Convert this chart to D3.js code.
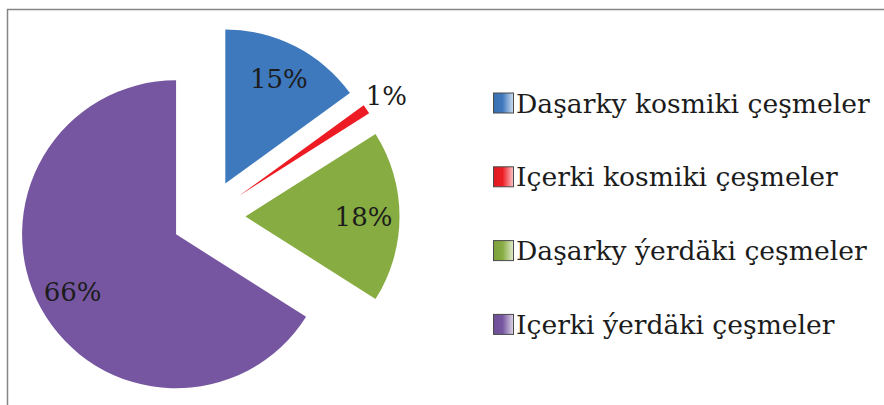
<!DOCTYPE html>
<html>
<head>
<meta charset="utf-8">
<script src="https://cdn.jsdelivr.net/npm/d3@7"></script>
<style>
  html, body { margin: 0; padding: 0; background: #fff; }
  svg { display: block; }
  text { font-family: "DejaVu Serif", "Liberation Serif", serif; fill: #1c1c1c; }
</style>
</head>
<body>
<svg id="chart" width="884" height="405"></svg>
<script>
const categories = ["Daşarky kosmiki çeşmeler", "Içerki kosmiki çeşmeler", "Daşarky ýerdäki çeşmeler", "Içerki ýerdäki çeşmeler"];
const values = [15, 1, 18, 66];
const labels = ["15%", "1%", "18%", "66%"];
const colors = ["#3E78BD", "#ED1C24", "#87AC41", "#7656A0"];

const svg = d3.select("#chart");
const W = 884, H = 405;

// frame
svg.append("path")
  .attr("d", `M7.5,${H + 2} V9.5 H${W + 2}`)
  .attr("fill", "none").attr("stroke", "#858585").attr("stroke-width", 1.5);

// gradients for legend swatches
const defs = svg.append("defs");
colors.forEach((c, i) => {
  const g = defs.append("linearGradient").attr("id", "sw" + i)
    .attr("x1", "0").attr("y1", "0").attr("x2", "1").attr("y2", "0");
  g.append("stop").attr("offset", "0%").attr("stop-color", d3.color(c).darker(0.2));
  g.append("stop").attr("offset", "45%").attr("stop-color", c);
  g.append("stop").attr("offset", "100%").attr("stop-color", d3.interpolateRgb(c, "#ffffff")(0.75));
});

const cx = 208.5, cy = 216.5, R = 154, explode = 37;
const pie = d3.pie().sort(null).value(d => d);
const arcs = pie(values);
const arc = d3.arc().innerRadius(0).outerRadius(R);
const labelArcIn = d3.arc().innerRadius(118).outerRadius(118);
const labelArcOut = d3.arc().innerRadius(178).outerRadius(178);

const g = svg.append("g").attr("transform", `translate(${cx},${cy})`);
arcs.forEach((a, i) => {
  const mid = (a.startAngle + a.endAngle) / 2;
  const ox = Math.sin(mid) * explode, oy = -Math.cos(mid) * explode;
  const sg = g.append("g").attr("transform", `translate(${ox},${oy})`);
  sg.append("path").attr("d", arc(a)).attr("fill", colors[i]);
  const outside = values[i] < 5;
  const p = (outside ? labelArcOut : labelArcIn).centroid(a);
  sg.append("text")
    .attr("x", p[0]).attr("y", p[1])
    .attr("text-anchor", "middle")
    .attr("dy", "0.36em")
    .attr("font-size", 26)
    .text(labels[i]);
});

// legend
const leg = svg.append("g").attr("transform", "translate(493,103)");
categories.forEach((c, i) => {
  const row = leg.append("g").attr("transform", `translate(0,${i * 73.8})`);
  row.append("rect").attr("x", 0.5).attr("y", -10).attr("width", 20).attr("height", 20)
    .attr("fill", `url(#sw${i})`).attr("stroke", "#4a4a4a").attr("stroke-width", 1);
  row.append("text").attr("x", 23).attr("y", 9.5)
    .attr("font-size", 26.6)
    .text(c);
});
</script>
</body>
</html>
